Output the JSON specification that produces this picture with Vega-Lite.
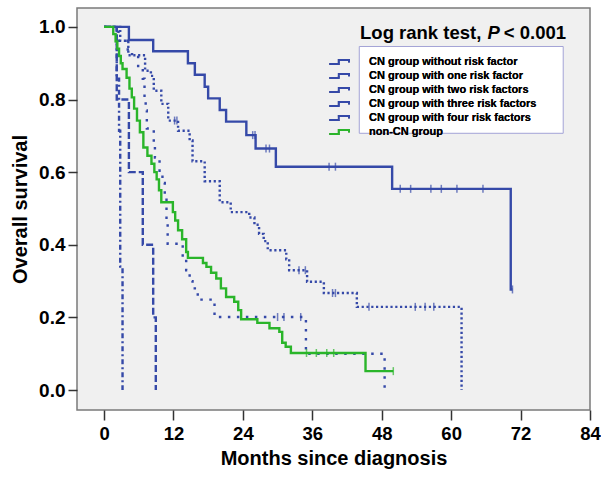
{
  "$schema": "https://vega.github.io/schema/vega-lite/v6.json",
  "width": 513,
  "height": 402,
  "autosize": "none",
  "padding": {"left": 77, "top": 8, "right": 11, "bottom": 68},
  "background": "white",
  "config": {
    "view": {"fill": "#f0f0f0", "stroke": "#7a7a7a", "strokeWidth": 1.5},
    "font": "Liberation Sans"
  },
  "datasets": {
    "curves": [
      {"g": "CN group without risk factor", "t": 0, "s": 1.0},
      {"g": "CN group without risk factor", "t": 4.3, "s": 0.964},
      {"g": "CN group without risk factor", "t": 8.5, "s": 0.933},
      {"g": "CN group without risk factor", "t": 14.5, "s": 0.90},
      {"g": "CN group without risk factor", "t": 15.7, "s": 0.868},
      {"g": "CN group without risk factor", "t": 17.4, "s": 0.835},
      {"g": "CN group without risk factor", "t": 18.0, "s": 0.803},
      {"g": "CN group without risk factor", "t": 20.0, "s": 0.771},
      {"g": "CN group without risk factor", "t": 21.1, "s": 0.739},
      {"g": "CN group without risk factor", "t": 24.6, "s": 0.702},
      {"g": "CN group without risk factor", "t": 26.2, "s": 0.665},
      {"g": "CN group without risk factor", "t": 29.7, "s": 0.615},
      {"g": "CN group without risk factor", "t": 49.8, "s": 0.554},
      {"g": "CN group without risk factor", "t": 70.3, "s": 0.277},
      {"g": "CN group without risk factor", "t": 70.6, "s": 0.277},

      {"g": "CN group with one risk factor", "t": 0, "s": 1.0},
      {"g": "CN group with one risk factor", "t": 2.8, "s": 0.962},
      {"g": "CN group with one risk factor", "t": 4.2, "s": 0.922},
      {"g": "CN group with one risk factor", "t": 7.1, "s": 0.879},
      {"g": "CN group with one risk factor", "t": 8.1, "s": 0.865},
      {"g": "CN group with one risk factor", "t": 8.6, "s": 0.824},
      {"g": "CN group with one risk factor", "t": 9.9, "s": 0.788},
      {"g": "CN group with one risk factor", "t": 11.1, "s": 0.742},
      {"g": "CN group with one risk factor", "t": 12.8, "s": 0.714},
      {"g": "CN group with one risk factor", "t": 14.8, "s": 0.687},
      {"g": "CN group with one risk factor", "t": 15.3, "s": 0.630},
      {"g": "CN group with one risk factor", "t": 17.4, "s": 0.575},
      {"g": "CN group with one risk factor", "t": 20.0, "s": 0.517},
      {"g": "CN group with one risk factor", "t": 21.9, "s": 0.49},
      {"g": "CN group with one risk factor", "t": 25.1, "s": 0.475},
      {"g": "CN group with one risk factor", "t": 26.0, "s": 0.455},
      {"g": "CN group with one risk factor", "t": 26.8, "s": 0.43},
      {"g": "CN group with one risk factor", "t": 27.6, "s": 0.41},
      {"g": "CN group with one risk factor", "t": 28.3, "s": 0.385},
      {"g": "CN group with one risk factor", "t": 31.5, "s": 0.36},
      {"g": "CN group with one risk factor", "t": 32.0, "s": 0.33},
      {"g": "CN group with one risk factor", "t": 35.1, "s": 0.298},
      {"g": "CN group with one risk factor", "t": 38.0, "s": 0.267},
      {"g": "CN group with one risk factor", "t": 43.7, "s": 0.229},
      {"g": "CN group with one risk factor", "t": 61.8, "s": 0.0},

      {"g": "CN group with two risk factors", "t": 0, "s": 1.0},
      {"g": "CN group with two risk factors", "t": 2.5, "s": 0.962},
      {"g": "CN group with two risk factors", "t": 4.1, "s": 0.925},
      {"g": "CN group with two risk factors", "t": 5.9, "s": 0.887},
      {"g": "CN group with two risk factors", "t": 6.7, "s": 0.857},
      {"g": "CN group with two risk factors", "t": 7.0, "s": 0.80},
      {"g": "CN group with two risk factors", "t": 7.2, "s": 0.77},
      {"g": "CN group with two risk factors", "t": 7.4, "s": 0.72},
      {"g": "CN group with two risk factors", "t": 8.6, "s": 0.68},
      {"g": "CN group with two risk factors", "t": 8.8, "s": 0.64},
      {"g": "CN group with two risk factors", "t": 9.6, "s": 0.604},
      {"g": "CN group with two risk factors", "t": 10.1, "s": 0.57},
      {"g": "CN group with two risk factors", "t": 10.5, "s": 0.53},
      {"g": "CN group with two risk factors", "t": 10.8, "s": 0.46},
      {"g": "CN group with two risk factors", "t": 11.0, "s": 0.403},
      {"g": "CN group with two risk factors", "t": 13.6, "s": 0.365},
      {"g": "CN group with two risk factors", "t": 14.2, "s": 0.33},
      {"g": "CN group with two risk factors", "t": 14.8, "s": 0.30},
      {"g": "CN group with two risk factors", "t": 15.3, "s": 0.28},
      {"g": "CN group with two risk factors", "t": 16.2, "s": 0.249},
      {"g": "CN group with two risk factors", "t": 19.1, "s": 0.201},
      {"g": "CN group with two risk factors", "t": 34.9, "s": 0.10},
      {"g": "CN group with two risk factors", "t": 48.5, "s": 0.0},

      {"g": "CN group with three risk factors", "t": 0, "s": 1.0},
      {"g": "CN group with three risk factors", "t": 2.2, "s": 0.80},
      {"g": "CN group with three risk factors", "t": 4.3, "s": 0.60},
      {"g": "CN group with three risk factors", "t": 6.7, "s": 0.40},
      {"g": "CN group with three risk factors", "t": 8.5, "s": 0.20},
      {"g": "CN group with three risk factors", "t": 8.95, "s": 0.0},

      {"g": "CN group with four risk factors", "t": 0, "s": 1.0},
      {"g": "CN group with four risk factors", "t": 2.2, "s": 0.857},
      {"g": "CN group with four risk factors", "t": 2.6, "s": 0.714},
      {"g": "CN group with four risk factors", "t": 2.8, "s": 0.34},
      {"g": "CN group with four risk factors", "t": 3.2, "s": 0.0},

      {"g": "non-CN group", "t": 0, "s": 1.0},
      {"g": "non-CN group", "t": 1.6, "s": 0.98},
      {"g": "non-CN group", "t": 2.0, "s": 0.96},
      {"g": "non-CN group", "t": 2.3, "s": 0.94},
      {"g": "non-CN group", "t": 2.6, "s": 0.92},
      {"g": "non-CN group", "t": 2.9, "s": 0.90},
      {"g": "non-CN group", "t": 3.2, "s": 0.884},
      {"g": "non-CN group", "t": 3.9, "s": 0.86},
      {"g": "non-CN group", "t": 4.4, "s": 0.83},
      {"g": "non-CN group", "t": 4.8, "s": 0.806},
      {"g": "non-CN group", "t": 5.2, "s": 0.775},
      {"g": "non-CN group", "t": 5.7, "s": 0.742},
      {"g": "non-CN group", "t": 6.2, "s": 0.71},
      {"g": "non-CN group", "t": 6.8, "s": 0.668},
      {"g": "non-CN group", "t": 7.5, "s": 0.645},
      {"g": "non-CN group", "t": 8.2, "s": 0.623},
      {"g": "non-CN group", "t": 8.7, "s": 0.60},
      {"g": "non-CN group", "t": 9.1, "s": 0.58},
      {"g": "non-CN group", "t": 9.5, "s": 0.55},
      {"g": "non-CN group", "t": 9.9, "s": 0.517},
      {"g": "non-CN group", "t": 11.9, "s": 0.49},
      {"g": "non-CN group", "t": 12.3, "s": 0.467},
      {"g": "non-CN group", "t": 12.8, "s": 0.44},
      {"g": "non-CN group", "t": 13.5, "s": 0.415},
      {"g": "non-CN group", "t": 14.2, "s": 0.38},
      {"g": "non-CN group", "t": 14.5, "s": 0.364},
      {"g": "non-CN group", "t": 17.1, "s": 0.35},
      {"g": "non-CN group", "t": 17.7, "s": 0.339},
      {"g": "non-CN group", "t": 18.5, "s": 0.323},
      {"g": "non-CN group", "t": 19.4, "s": 0.307},
      {"g": "non-CN group", "t": 20.2, "s": 0.28},
      {"g": "non-CN group", "t": 21.1, "s": 0.256},
      {"g": "non-CN group", "t": 22.5, "s": 0.243},
      {"g": "non-CN group", "t": 23.2, "s": 0.22},
      {"g": "non-CN group", "t": 23.7, "s": 0.195},
      {"g": "non-CN group", "t": 26.5, "s": 0.185},
      {"g": "non-CN group", "t": 28.6, "s": 0.17},
      {"g": "non-CN group", "t": 30.3, "s": 0.16},
      {"g": "non-CN group", "t": 30.8, "s": 0.13},
      {"g": "non-CN group", "t": 31.4, "s": 0.119},
      {"g": "non-CN group", "t": 32.3, "s": 0.102},
      {"g": "non-CN group", "t": 45.2, "s": 0.052},
      {"g": "non-CN group", "t": 50.0, "s": 0.052}
    ],
    "censors": [
      {"g": "CN group without risk factor", "t": 25.7, "s": 0.702},
      {"g": "CN group without risk factor", "t": 26.1, "s": 0.702},
      {"g": "CN group without risk factor", "t": 28.0, "s": 0.665},
      {"g": "CN group without risk factor", "t": 28.6, "s": 0.665},
      {"g": "CN group without risk factor", "t": 38.9, "s": 0.615},
      {"g": "CN group without risk factor", "t": 40.0, "s": 0.615},
      {"g": "CN group without risk factor", "t": 51.2, "s": 0.554},
      {"g": "CN group without risk factor", "t": 53.0, "s": 0.554},
      {"g": "CN group without risk factor", "t": 56.5, "s": 0.554},
      {"g": "CN group without risk factor", "t": 58.3, "s": 0.554},
      {"g": "CN group without risk factor", "t": 61.0, "s": 0.554},
      {"g": "CN group without risk factor", "t": 65.5, "s": 0.554},
      {"g": "CN group without risk factor", "t": 70.6, "s": 0.277},
      {"g": "CN group with one risk factor", "t": 12.2, "s": 0.742},
      {"g": "CN group with one risk factor", "t": 12.6, "s": 0.742},
      {"g": "CN group with one risk factor", "t": 33.7, "s": 0.33},
      {"g": "CN group with one risk factor", "t": 34.8, "s": 0.33},
      {"g": "CN group with one risk factor", "t": 39.5, "s": 0.267},
      {"g": "CN group with one risk factor", "t": 40.0, "s": 0.267},
      {"g": "CN group with one risk factor", "t": 45.8, "s": 0.229},
      {"g": "CN group with one risk factor", "t": 53.8, "s": 0.229},
      {"g": "CN group with one risk factor", "t": 55.5, "s": 0.229},
      {"g": "CN group with one risk factor", "t": 57.0, "s": 0.229},
      {"g": "CN group with two risk factors", "t": 30.0, "s": 0.201},
      {"g": "CN group with two risk factors", "t": 31.1, "s": 0.201},
      {"g": "CN group with two risk factors", "t": 34.0, "s": 0.201},
      {"g": "non-CN group", "t": 35.0, "s": 0.102},
      {"g": "non-CN group", "t": 36.7, "s": 0.102},
      {"g": "non-CN group", "t": 38.5, "s": 0.102},
      {"g": "non-CN group", "t": 39.7, "s": 0.102},
      {"g": "non-CN group", "t": 50.0, "s": 0.052}
    ]
  },
  "resolve": {"scale": {"color": "independent"}, "legend": {"color": "independent"}},
  "layer": [
    {
      "data": {"values": [{"box": "legend"}]},
      "mark": {"type": "rect", "fill": "white", "stroke": "#a3a3d6", "strokeWidth": 1},
      "encoding": {
        "x": {"datum": 44.12, "type": "quantitative", "scale": {"domain": [-4.67, 84], "nice": false, "zero": false}},
        "x2": {"datum": 79.37},
        "y": {"datum": 0.946, "type": "quantitative", "scale": {"domain": [-0.055, 1.052], "nice": false, "zero": false}},
        "y2": {"datum": 0.707}
      }
    },
    {
      "data": {"name": "curves"},
      "mark": {"type": "line", "interpolate": "step-after", "strokeWidth": 2.4},
      "encoding": {
        "x": {
          "field": "t", "type": "quantitative",
          "scale": {"domain": [-4.67, 84], "nice": false, "zero": false},
          "axis": {
            "values": [0, 12, 24, 36, 48, 60, 72, 84],
            "title": "Months since diagnosis",
            "domain": false, "grid": false,
            "tickSize": 10, "tickColor": "#333333", "tickWidth": 1.5,
            "labelFont": "Liberation Sans", "labelFontSize": 18.5, "labelFontWeight": "bold", "labelColor": "black",
            "labelPadding": 4, "labelFlush": false,
            "titleFont": "Liberation Sans", "titleFontSize": 20, "titleFontWeight": "bold", "titleColor": "black",
            "titlePadding": 6
          }
        },
        "y": {
          "field": "s", "type": "quantitative",
          "scale": {"domain": [-0.055, 1.052], "nice": false, "zero": false},
          "axis": {
            "values": [0, 0.2, 0.4, 0.6, 0.8, 1.0],
            "format": ".1f",
            "title": "Overall survival",
            "domain": false, "grid": false,
            "tickSize": 9, "tickColor": "#333333", "tickWidth": 1.5,
            "labelFont": "Liberation Sans", "labelFontSize": 19, "labelFontWeight": "bold", "labelColor": "black",
            "labelPadding": 3,
            "titleFont": "Liberation Sans", "titleFontSize": 20, "titleFontWeight": "bold", "titleColor": "black",
            "titlePadding": 8
          }
        },
        "color": {
          "field": "g", "type": "nominal",
          "scale": {
            "domain": ["CN group without risk factor", "CN group with one risk factor", "CN group with two risk factors", "CN group with three risk factors", "CN group with four risk factors", "non-CN group"],
            "range": ["#3549a8", "#3549a8", "#3549a8", "#3549a8", "#3549a8", "#2ab52a"]
          },
          "legend": {
            "orient": "none", "legendX": 256, "legendY": 47, "title": null, "padding": 0,
            "symbolType": "M-1.8,0.35H-0.2V-0.35H1.5V0.1", "symbolSize": 144, "symbolStrokeWidth": 2,
            "symbolFillColor": "transparent",
            "labelFont": "Liberation Sans", "labelFontSize": 11, "labelFontWeight": "bold", "labelColor": "black",
            "labelOffset": 22, "labelLimit": 0, "rowPadding": -0.5
          }
        },
        "strokeDash": {
          "field": "g", "type": "nominal",
          "scale": {
            "domain": ["CN group without risk factor", "CN group with one risk factor", "CN group with two risk factors", "CN group with three risk factors", "CN group with four risk factors", "non-CN group"],
            "range": [[1, 0], [2.2, 2.6], [2.5, 6.5], [7, 3], [5, 3, 2, 3], [1, 0]]
          },
          "legend": {
            "orient": "none", "legendX": 256, "legendY": 47, "title": null, "padding": 0,
            "symbolType": "M-1.8,0.35H-0.2V-0.35H1.5V0.1", "symbolSize": 144, "symbolStrokeWidth": 2,
            "symbolFillColor": "transparent",
            "labelFont": "Liberation Sans", "labelFontSize": 11, "labelFontWeight": "bold", "labelColor": "black",
            "labelOffset": 22, "labelLimit": 0, "rowPadding": -0.5
          }
        }
      }
    },
    {
      "data": {"name": "censors"},
      "mark": {"type": "tick", "orient": "vertical", "size": 8, "thickness": 1.5},
      "encoding": {
        "x": {"field": "t", "type": "quantitative"},
        "y": {"field": "s", "type": "quantitative"},
        "color": {
          "field": "g", "type": "nominal", "legend": null,
          "scale": {
            "domain": ["CN group without risk factor", "CN group with one risk factor", "CN group with two risk factors", "CN group with three risk factors", "CN group with four risk factors", "non-CN group"],
            "range": ["#3549a8", "#3549a8", "#3549a8", "#3549a8", "#3549a8", "#2ab52a"]
          }
        }
      }
    },
    {
      "data": {"values": [{"label": "Log rank test,"}]},
      "mark": {"type": "text", "align": "left", "baseline": "middle", "font": "Liberation Sans", "fontSize": 18.5, "fontWeight": "bold", "color": "black"},
      "encoding": {
        "x": {"datum": 44.25, "type": "quantitative"},
        "y": {"datum": 0.984, "type": "quantitative"},
        "text": {"field": "label"}
      }
    },
    {
      "data": {"values": [{"label": "P"}]},
      "mark": {"type": "text", "align": "left", "baseline": "middle", "font": "Liberation Sans", "fontSize": 18.5, "fontWeight": "bold", "fontStyle": "italic", "color": "black"},
      "encoding": {
        "x": {"datum": 66.3, "type": "quantitative"},
        "y": {"datum": 0.984, "type": "quantitative"},
        "text": {"field": "label"}
      }
    },
    {
      "data": {"values": [{"label": "< 0.001"}]},
      "mark": {"type": "text", "align": "left", "baseline": "middle", "font": "Liberation Sans", "fontSize": 18.5, "fontWeight": "bold", "color": "black"},
      "encoding": {
        "x": {"datum": 69.1, "type": "quantitative"},
        "y": {"datum": 0.984, "type": "quantitative"},
        "text": {"field": "label"}
      }
    }
  ]
}
